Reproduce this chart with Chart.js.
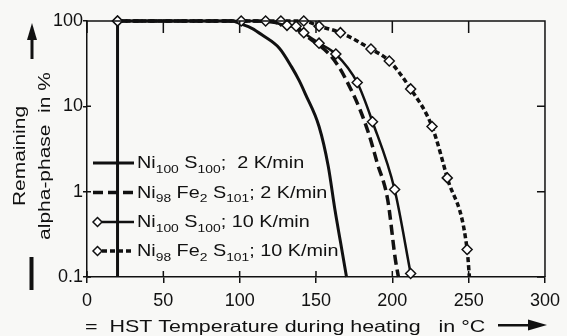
<!DOCTYPE html>
<html>
<head>
<meta charset="utf-8">
<script src="https://cdn.jsdelivr.net/npm/chart.js@4/dist/chart.umd.min.js"></script>
<style>
  html, body { margin: 0; padding: 0; background: #f8f8f6; }
  #wrap { width: 567px; height: 336px; }
</style>
</head>
<body>
<div id="wrap"><canvas id="heatChart" width="567" height="336"></canvas></div>
<script>
// temperature in °C / remaining alpha-phase in %
const startT = [20, 20];
const startV = [0.1, 100];

const ni2T = [20, 95, 101, 108, 115, 126, 134, 139, 143, 152, 158, 162.5, 166, 170];
const ni2V = [100, 100, 92, 82, 68, 48, 29, 20, 14, 5.8, 2.0, 0.6, 0.26, 0.1];

const fe2T = [20, 110, 125, 135, 146, 158, 165, 172, 179, 185, 190, 197, 202, 204];
const fe2V = [100, 100, 95, 85, 62, 42, 29, 17, 9, 4.5, 2.2, 0.8, 0.16, 0.1];

const ni10T = [20, 101, 117, 131, 137, 142, 152, 163, 177, 187, 201.5, 212];
const ni10V = [100, 100, 100, 89, 87, 73, 55, 41, 19, 6.6, 1.06, 0.11];

const fe10T = [20, 127, 142, 152, 166, 186, 198, 212, 226, 236, 249, 250.5];
const fe10V = [100, 100, 100, 87, 73, 47, 34, 16, 5.8, 1.45, 0.21, 0.1];

const xTicks = [0, 50, 100, 150, 200, 250, 300];
const yTicks = [0.1, 1, 10, 100];
const yTickLabels = ['0.1', '1', '10', '100'];

// legend texts: [text, subscript?]
const legendNi2 = [['Ni', 0], ['100', 1], [' S', 0], ['100', 1], [';  2 K/min', 0]];
const legendFe2 = [['Ni', 0], ['98', 1], [' Fe', 0], ['2', 1], [' S', 0], ['101', 1], ['; 2 K/min', 0]];
const legendNi10 = [['Ni', 0], ['100', 1], [' S', 0], ['100', 1], ['; 10 K/min', 0]];
const legendFe10 = [['Ni', 0], ['98', 1], [' Fe', 0], ['2', 1], [' S', 0], ['101', 1], ['; 10 K/min', 0]];

const yTitle = ['Remaining', 'alpha-phase  in %'];
const xTitle = '=  HST Temperature during heating   in °C';

const ink = '#111';
const FONT = '"Liberation Sans", Arial, sans-serif';
const pts = (t, v) => t.map((x, i) => ({ x, y: v[i] }));

function drawRich(ctx, parts, x, y, size, sx) {
    ctx.save();
    ctx.translate(x, y);
    ctx.scale(sx, 1);
    let cx = 0;
    parts.forEach(([t, sub]) => {
        const fs = sub ? size * 0.7 : size;
        ctx.font = `${fs}px ${FONT}`;
        ctx.fillText(t, cx, sub ? size * 0.3 : 0);
        cx += ctx.measureText(t).width;
    });
    ctx.restore();
}

function diamond(ctx, x, y, r) {
    ctx.beginPath();
    ctx.moveTo(x, y - r); ctx.lineTo(x + r, y); ctx.lineTo(x, y + r); ctx.lineTo(x - r, y);
    ctx.closePath();
    ctx.fillStyle = '#fff'; ctx.fill();
    ctx.lineWidth = 1.5; ctx.strokeStyle = ink; ctx.stroke();
}

// frame, inner ticks, legend and axis titles
const decor = {
    id: 'decor',
    afterDraw(chart) {
        const { ctx, chartArea: a, scales: { x, y } } = chart;
        ctx.save();
        ctx.strokeStyle = ink;
        ctx.lineWidth = 1.5;
        ctx.beginPath();
        ctx.moveTo(a.left, a.top); ctx.lineTo(a.right, a.top); ctx.lineTo(a.right, a.bottom);
        xTicks.forEach(v => {
            const px = x.getPixelForValue(v);
            ctx.moveTo(px, a.bottom); ctx.lineTo(px, a.bottom - 6);
            ctx.moveTo(px, a.top); ctx.lineTo(px, a.top + 12);
        });
        yTicks.forEach(v => {
            const py = y.getPixelForValue(v);
            ctx.moveTo(a.left, py); ctx.lineTo(a.left + 4, py);
            ctx.moveTo(a.right, py); ctx.lineTo(a.right - 8, py);
        });
        ctx.stroke();

        // legend
        const items = [[1, legendNi2], [2, legendFe2], [3, legendNi10], [4, legendFe10]];
        const base = [168, 197.5, 227, 256];
        items.forEach(([di, parts], i) => {
            const ds = chart.data.datasets[di];
            const ly = base[i] - 5;
            const hasMark = ds.pointStyle === 'rectRot';
            ctx.save();
            ctx.strokeStyle = ink;
            ctx.lineWidth = ds.borderWidth;
            ctx.setLineDash(ds.borderDash || []);
            ctx.beginPath();
            ctx.moveTo(hasMark ? 102 : 93, ly); ctx.lineTo(134, ly);
            ctx.stroke();
            ctx.restore();
            if (hasMark) diamond(ctx, 97.5, ly, 4.5);
            ctx.fillStyle = ink;
            ctx.textAlign = 'left';
            ctx.textBaseline = 'alphabetic';
            drawRich(ctx, parts, 137, base[i], 16.5, 1.2);
        });

        // y title
        ctx.fillStyle = ink;
        ctx.save();
        ctx.translate(25, 156);
        ctx.rotate(-Math.PI / 2);
        ctx.scale(1.27, 1);
        ctx.textAlign = 'center';
        ctx.font = `16.5px ${FONT}`;
        ctx.fillText(yTitle[0], 0, 0);
        ctx.fillText(yTitle[1], 0, 25);
        ctx.restore();
        // up arrow and bar
        ctx.fillRect(30.5, 37, 3, 22);
        ctx.beginPath();
        ctx.moveTo(32, 23); ctx.lineTo(37, 40); ctx.lineTo(27, 40); ctx.closePath(); ctx.fill();
        ctx.fillRect(29.5, 257, 4, 33);

        // x title with arrow
        ctx.textAlign = 'left';
        drawRich(ctx, [[xTitle, 0]], 85, 332, 16.5, 1.3);
        ctx.fillRect(498, 324, 32, 2.5);
        ctx.beginPath();
        ctx.moveTo(547, 325); ctx.lineTo(528, 319.5); ctx.lineTo(528, 330.5); ctx.closePath(); ctx.fill();
        ctx.restore();
    }
};

const ctx = document.getElementById('heatChart').getContext('2d');
new Chart(ctx, {
    type: 'line',
    data: {
        datasets: [
            { data: pts(startT, startV), borderColor: ink, borderWidth: 3, pointRadius: 0, order: 4 },
            { data: pts(ni2T, ni2V), borderColor: ink, borderWidth: 3, pointRadius: 0,
              cubicInterpolationMode: 'monotone', order: 2 },
            { data: pts(fe2T, fe2V), borderColor: ink, borderWidth: 3.5, borderDash: [10, 5], pointRadius: 0,
              cubicInterpolationMode: 'monotone', order: 3 },
            { data: pts(ni10T, ni10V), borderColor: ink, borderWidth: 2.5, pointStyle: 'rectRot',
              pointRadius: 5, pointBackgroundColor: '#fff', pointBorderColor: ink, pointBorderWidth: 1.5,
              cubicInterpolationMode: 'monotone', order: 0 },
            { data: pts(fe10T, fe10V), borderColor: ink, borderWidth: 3.5, borderDash: [5, 3], pointStyle: 'rectRot',
              pointRadius: c => (c.dataIndex === fe10T.length - 1 ? 0 : 5),
              pointBackgroundColor: '#fff', pointBorderColor: ink, pointBorderWidth: 1.5,
              cubicInterpolationMode: 'monotone', order: 1 }
        ].map(d => ({ ...d, fill: false, clip: 8 }))
    },
    options: {
        responsive: false,
        animation: false,
        layout: { padding: { top: 21, right: 19, left: 0, bottom: 0 } },
        plugins: { legend: { display: false }, tooltip: { enabled: false } },
        scales: {
            x: {
                type: 'linear', min: 0, max: 300,
                afterBuildTicks: s => { s.ticks = xTicks.map(value => ({ value })); },
                afterFit: s => { s.height = 59; },
                ticks: { color: ink, font: { family: FONT, size: 18 }, padding: 7, maxRotation: 0 },
                grid: { drawOnChartArea: false, tickLength: 6, color: ink, lineWidth: 1.5 },
                border: { color: ink, width: 1.5 }
            },
            y: {
                type: 'logarithmic', min: 0.1, max: 100,
                afterBuildTicks: s => { s.ticks = yTicks.map(value => ({ value })); },
                afterFit: s => { s.width = 87; },
                ticks: { color: ink, font: { family: FONT, size: 18 }, padding: 0,
                         callback: v => yTickLabels[yTicks.indexOf(v)] ?? '' },
                grid: { drawOnChartArea: false, tickLength: 4, color: ink, lineWidth: 1.5 },
                border: { color: ink, width: 1.5 }
            }
        }
    },
    plugins: [decor]
});
</script>
</body>
</html>
